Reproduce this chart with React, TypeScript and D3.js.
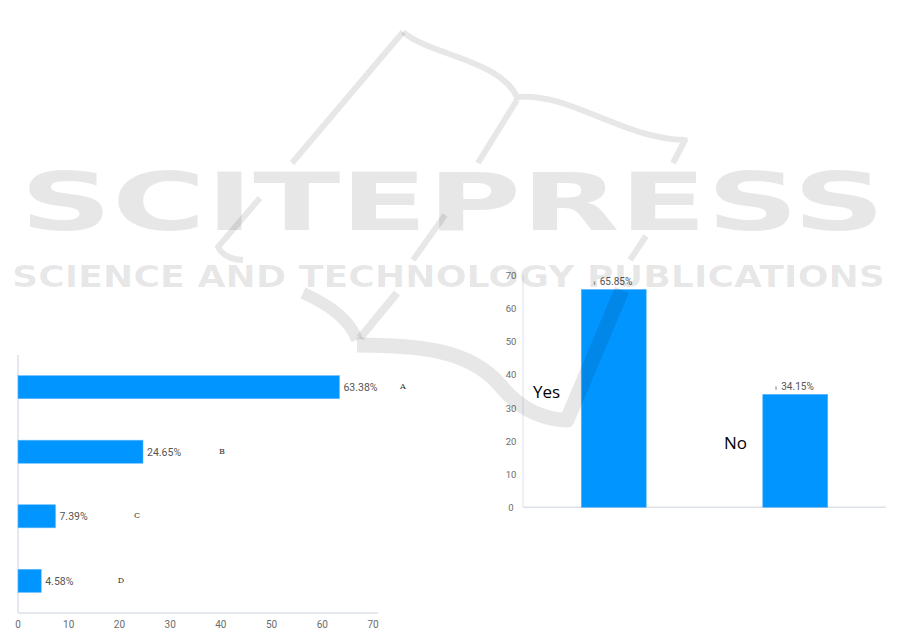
import React from "react";
import * as d3 from "d3";

// Left chart (horizontal bars)
const optionCats = ["A", "B", "C", "D"];
const optionValues = [63.38, 24.65, 7.39, 4.58];
const optionLetterAt = [75.9, 40.2, 23.5, 20.3]; // letter anchor in axis units
const xTicksLeft = [0, 10, 20, 30, 40, 50, 60, 70];

// Right chart (vertical bars)
const answerCats = ["Yes", "No"];
const answerValues = [65.85, 34.15];
const answerWordAt = [33, 17.5]; // word label anchor in axis units
const yTicksRight = [0, 10, 20, 30, 40, 50, 60, 70];

const BLUE = "#0095ff";
const AXIS = "#dde2ea";
const TICK = "#6b6b6b";
const SANS = "Roboto, 'Open Sans', sans-serif";

export default function App() {
  const W = 901, H = 637;

  // left scales
  const xL = d3.scaleLinear().domain([0, 70]).range([18, 373]);
  const yL = d3.scaleBand<string>().domain(optionCats).range([355, 613]).paddingInner(0.643).paddingOuter(0.32);

  // right scales
  const xR = d3.scaleBand<string>().domain(answerCats).range([523, 886]).paddingInner(0.642).paddingOuter(0.321);
  const yR = d3.scaleLinear().domain([0, 70]).range([507.3, 275.7]);

  const wm = "rgba(0,0,0,0.095)";

  return (
    <svg width={W} height={H} style={{ position: "absolute", left: 0, top: 0, background: "#fff" }}>
      <rect x={0} y={0} width={W} height={H} fill="#fff" />

      {/* ---------- left chart ---------- */}
      <line x1={18} x2={18} y1={355} y2={613} stroke={AXIS} strokeWidth={1.5} />
      <line x1={18} x2={378} y1={613} y2={613} stroke={AXIS} strokeWidth={1.5} />
      {xTicksLeft.map((t) => (
        <text key={t} x={xL(t)} y={628} fontSize={10} fill={TICK} textAnchor="middle" fontFamily={SANS}>
          {t}
        </text>
      ))}
      {optionCats.map((c, i) => {
        const y0 = yL(c)!;
        const bw = yL.bandwidth();
        return (
          <g key={c}>
            <rect x={xL(0)} y={y0} width={xL(optionValues[i]) - xL(0)} height={bw} fill={BLUE} stroke="#5fb8ff" strokeWidth={0.6} />
            <text x={xL(optionValues[i]) + 4} y={y0 + bw / 2 + 4} fontSize={10.5} fill="#555" fontFamily={SANS}>
              {optionValues[i].toFixed(2)}%
            </text>
            <text x={xL(optionLetterAt[i])} y={y0 + bw / 2 + 2} fontSize={8} fill="#333" fontFamily="'DejaVu Serif', serif" textAnchor="middle">
              {c}
            </text>
          </g>
        );
      })}

      {/* ---------- right chart ---------- */}
      <line x1={523} x2={523} y1={275} y2={507.3} stroke={AXIS} strokeWidth={1} />
      <line x1={523} x2={886} y1={507.3} y2={507.3} stroke={AXIS} strokeWidth={1.5} />
      {yTicksRight.map((t) => (
        <text key={t} x={511} y={yR(t) + 3.5} fontSize={9.5} fill={TICK} textAnchor="middle" fontFamily={SANS}>
          {t}
        </text>
      ))}
      {answerCats.map((c, i) => {
        const x0 = xR(c)!;
        const bw = xR.bandwidth();
        const cx = x0 + bw / 2;
        const top = yR(answerValues[i]);
        return (
          <g key={c}>
            <rect x={x0} y={top} width={bw} height={yR(0) - top} fill={BLUE} stroke="#5fb8ff" strokeWidth={0.6} />
            <rect x={cx - 20} y={top - 8} width={1.5} height={3.5} fill="#aaa" />
            <text x={cx - 14} y={top - 4} fontSize={10} fill="#555" fontFamily={SANS}>
              {answerValues[i].toFixed(2)}%
            </text>
          </g>
        );
      })}
      {answerCats.map((c, i) => (
        <text key={"w" + c} x={i === 0 ? 533 : 724} y={yR(answerWordAt[i])} fontSize={17} fill="#000" fontFamily="'Open Sans', sans-serif">
          {c}
        </text>
      ))}

      {/* ---------- watermark ---------- */}
      <g fill={wm} stroke="none" style={{ pointerEvents: "none" }}>
        <text x={20} y={230} fontSize={80} fontWeight="bold" fontFamily="'DejaVu Sans', sans-serif" textLength={865} lengthAdjust="spacingAndGlyphs">
          SCITEPRESS
        </text>
        <text x={12} y={287} fontSize={31} fontWeight="bold" fontFamily="'DejaVu Sans', sans-serif" textLength={873} lengthAdjust="spacingAndGlyphs">
          SCIENCE AND TECHNOLOGY PUBLICATIONS
        </text>
      </g>
      <g fill="none" stroke={wm} strokeLinecap="butt" strokeLinejoin="round" style={{ pointerEvents: "none" }}>
        <path d="M403,32 L292,163" strokeWidth={6} />
        <path d="M403,32 C430,55 500,60 517,97 C570,92 620,138 685,140 L673,163" strokeWidth={6} />
        <path d="M517,100 L478,163" strokeWidth={6} />
        <path d="M260,198 L218,247 C222,255 232,260 243,260" strokeWidth={6} />
        <path d="M445,215 L413,260" strokeWidth={6} />
        <path d="M646,236 L630,260" strokeWidth={6} />
        <path d="M303,293 C330,305 350,320 357,340" strokeWidth={12} />
        <path d="M397,293 L360,338" strokeWidth={8} />
        <path d="M357,345 C420,345 470,350 500,385 C520,410 545,420 567,420 L622,290" strokeWidth={15} />
      </g>
    </svg>
  );
}
